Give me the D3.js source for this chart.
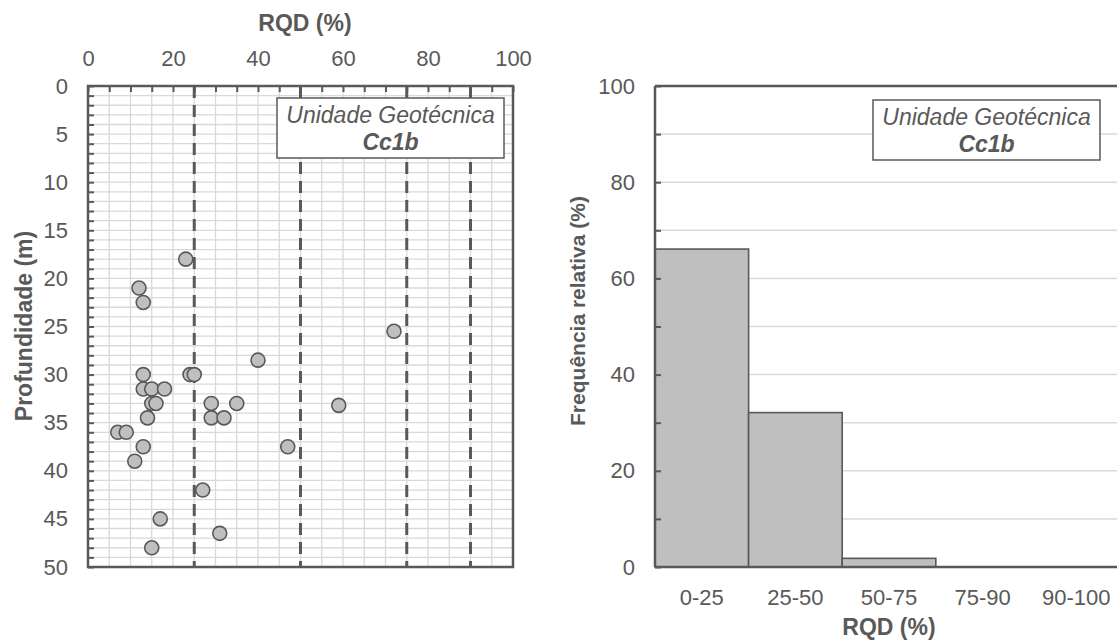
<!DOCTYPE html>
<html><head><meta charset="utf-8">
<script src="https://cdn.jsdelivr.net/npm/d3@7"></script>
<style>
body{margin:0;background:#fff;}
text{font-family:"Liberation Sans",Arial,sans-serif;fill:#595959;}
</style></head><body>
<svg id="c" width="1117" height="641"></svg>
<script>
// ---- data ----
const rqdValues   = [23,12,13,72,40,13,24,25,13,15,18,15,16,29,35,59,14,29,32,7,9,13,47,11,27,17,31,15];
const depthValues = [18,21,22.5,25.5,28.5,30,30,30,31.5,31.5,31.5,33,33,33,33,33.2,34.5,34.5,34.5,36,36,37.5,37.5,39,42,45,46.5,48];
const xTicksLeft  = [0,20,40,60,80,100];
const yTicksLeft  = [0,5,10,15,20,25,30,35,40,45,50];
const limits      = [25,50,75,90];
const categories  = ["0-25","25-50","50-75","75-90","90-100"];
const frequencies = [66.1,32.1,1.8,0,0];
const yTicksRight = [0,20,40,60,80,100];
const boxLine1 = "Unidade Geotécnica";
const boxLine2 = "Cc1b";

const C = "#595959", G = "#d9d9d9", F = "#bfbfbf";
const svg = d3.select("#c");

// ---- left chart ----
const L = {l:88, r:513, t:86, b:567};
const x = d3.scaleLinear().domain([0,100]).range([L.l,L.r]);
const y = d3.scaleLinear().domain([0,50]).range([L.t,L.b]);
const gl = svg.append("g");

// grid
gl.append("g").selectAll("line").data(d3.range(0,51,1)).join("line")
  .attr("x1",L.l).attr("x2",L.r).attr("y1",d=>y(d)).attr("y2",d=>y(d))
  .attr("stroke",G).attr("stroke-width",1.3);
gl.append("g").selectAll("line").data(d3.range(0,101,5)).join("line")
  .attr("y1",L.t).attr("y2",L.b).attr("x1",d=>x(d)).attr("x2",d=>x(d))
  .attr("stroke",G).attr("stroke-width",1.3);

// dashed limits
gl.append("g").selectAll("line").data(limits).join("line")
  .attr("y1",L.t).attr("y2",L.b).attr("x1",d=>x(d)).attr("x2",d=>x(d))
  .attr("stroke",C).attr("stroke-width",3).attr("stroke-dasharray","12,7");

// top axis
const topAxis = d3.axisTop(x).tickValues(d3.range(0,101,5)).tickSize(-6).tickFormat("");
gl.append("g").attr("transform",`translate(0,${L.t})`).call(topAxis)
  .call(g=>{g.select(".domain").remove(); g.selectAll("line").attr("stroke",C).attr("stroke-width",2);});
gl.append("g").attr("transform",`translate(0,${L.t})`)
  .call(d3.axisTop(x).tickValues(xTicksLeft).tickSize(0).tickPadding(20))
  .call(g=>{g.select(".domain").remove(); g.selectAll("text").attr("font-size",22).style("fill",C);});

// left axis
gl.append("g").attr("transform",`translate(${L.l},0)`)
  .call(d3.axisLeft(y).tickValues(d3.range(0,51,1)).tickSize(-6).tickFormat(""))
  .call(g=>{g.select(".domain").remove(); g.selectAll("line").attr("stroke",C).attr("stroke-width",2);});
gl.append("g").attr("transform",`translate(${L.l},0)`)
  .call(d3.axisLeft(y).tickValues(yTicksLeft).tickSize(0).tickPadding(20))
  .call(g=>{g.select(".domain").remove(); g.selectAll("text").attr("font-size",22).style("fill",C);});

// frame
gl.append("rect").attr("x",L.l).attr("y",L.t).attr("width",L.r-L.l).attr("height",L.b-L.t)
  .attr("fill","none").attr("stroke",C).attr("stroke-width",2.5);

// box
function infoBox(g,x0,y0,w,h){
  g.append("rect").attr("x",x0).attr("y",y0).attr("width",w).attr("height",h)
    .attr("fill","#fff").attr("stroke",C).attr("stroke-width",1.5);
  g.append("text").attr("x",x0+w/2).attr("y",y0+25).attr("text-anchor","middle")
    .attr("font-size",23).attr("font-style","italic").text(boxLine1);
  g.append("text").attr("x",x0+w/2).attr("y",y0+52).attr("text-anchor","middle")
    .attr("font-size",23).attr("font-style","italic").attr("font-weight","bold").text(boxLine2);
}
infoBox(gl,277,98,227,60);

// points
gl.append("g").selectAll("circle").data(rqdValues.map((v,i)=>[v,depthValues[i]])).join("circle")
  .attr("cx",d=>x(d[0])).attr("cy",d=>y(d[1])).attr("r",7)
  .attr("fill",F).attr("stroke",C).attr("stroke-width",1.6);

// titles
gl.append("text").attr("x",305).attr("y",31).attr("text-anchor","middle")
  .attr("font-size",23).attr("font-weight","bold").text("RQD (%)");
gl.append("text").attr("transform",`translate(32,326) rotate(-90)`).attr("text-anchor","middle")
  .attr("font-size",23).attr("font-weight","bold").text("Profundidade (m)");

// ---- right chart ----
const R = {l:655, r:1123, t:86, b:567};
const xb = d3.scaleBand().domain(categories).range([R.l,R.r]).padding(0);
const yb = d3.scaleLinear().domain([0,100]).range([R.b,R.t]);
const gr = svg.append("g");

gr.append("g").selectAll("line").data(d3.range(10,100,10)).join("line")
  .attr("x1",R.l).attr("x2",R.r).attr("y1",d=>yb(d)).attr("y2",d=>yb(d))
  .attr("stroke",G).attr("stroke-width",1.5);

infoBox(gr,873,100,227,60);

gr.append("g").selectAll("rect").data(categories.map((c,i)=>[c,frequencies[i]]).filter(d=>d[1]>0)).join("rect")
  .attr("x",d=>xb(d[0])).attr("width",xb.bandwidth())
  .attr("y",d=>yb(d[1])).attr("height",d=>yb(0)-yb(d[1]))
  .attr("fill",F).attr("stroke",C).attr("stroke-width",1.6);

gr.append("g").attr("transform",`translate(${R.l},0)`)
  .call(d3.axisLeft(yb).tickValues(d3.range(0,101,10)).tickSize(-6).tickFormat(""))
  .call(g=>{g.select(".domain").remove(); g.selectAll("line").attr("stroke",C).attr("stroke-width",2);});
gr.append("g").attr("transform",`translate(${R.l},0)`)
  .call(d3.axisLeft(yb).tickValues(yTicksRight).tickSize(0).tickPadding(20))
  .call(g=>{g.select(".domain").remove(); g.selectAll("text").attr("font-size",22).style("fill",C);});
gr.append("g").attr("transform",`translate(0,${R.b})`)
  .call(d3.axisBottom(xb).tickSize(0).tickPadding(22))
  .call(g=>{g.select(".domain").remove(); g.selectAll("text").attr("font-size",22).style("fill",C);});

gr.append("line").attr("x1",R.l).attr("x2",R.l).attr("y1",R.t).attr("y2",R.b).attr("stroke",C).attr("stroke-width",2.5);
gr.append("line").attr("x1",R.l).attr("x2",R.r).attr("y1",R.b).attr("y2",R.b).attr("stroke",C).attr("stroke-width",2.5);
gr.append("line").attr("x1",R.l).attr("x2",R.r).attr("y1",R.t).attr("y2",R.t).attr("stroke",C).attr("stroke-width",2.5);

gr.append("text").attr("x",889).attr("y",635).attr("text-anchor","middle")
  .attr("font-size",23).attr("font-weight","bold").text("RQD (%)");
gr.append("text").attr("transform",`translate(585,311) rotate(-90)`).attr("text-anchor","middle")
  .attr("font-size",21).attr("font-weight","bold").text("Frequência relativa (%)");
</script></body></html>
